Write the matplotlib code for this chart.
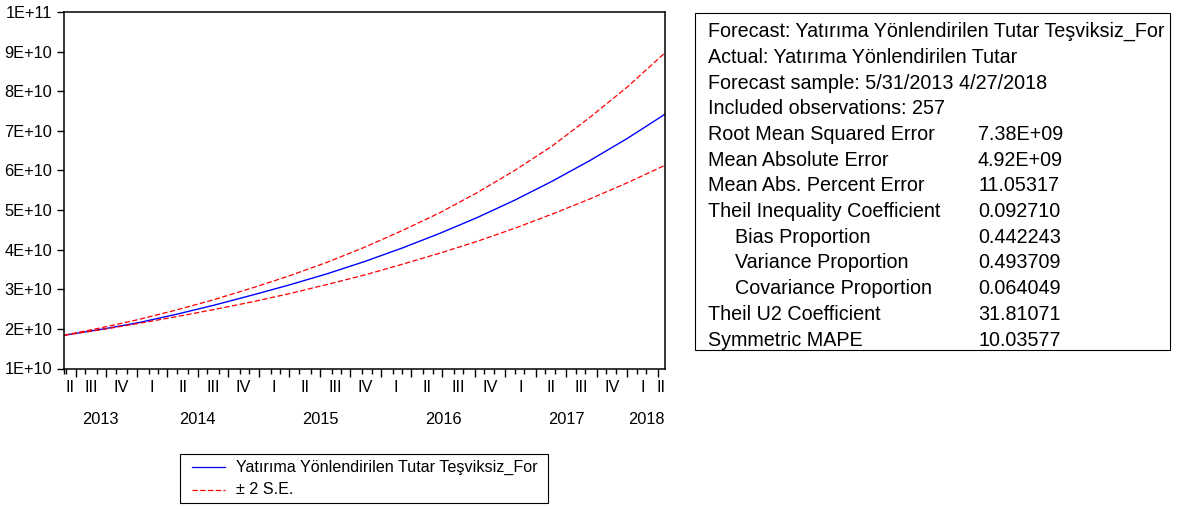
# Forecast graph: Yatırıma Yönlendirilen Tutar (teşviksiz) with ±2 S.E. band
import matplotlib
matplotlib.use('Agg')
import matplotlib.pyplot as plt
import matplotlib.dates as mdates
from matplotlib.lines import Line2D
from matplotlib.patches import Rectangle
import numpy as np
import pandas as pd

plt.rcParams['font.family'] = ['Liberation Sans', 'DejaVu Sans']

# Forecast sample (weekly, Friday dates)
start = pd.Timestamp('2013-05-31')
end = pd.Timestamp('2018-04-27')

# values in units of 1E+10, read every 16 weeks from the sample start
weeks = [0, 16, 32, 48, 64, 80, 96, 112, 128, 144, 160, 176, 192, 208, 224, 240, 256]
forecast = [1.84, 1.99, 2.16, 2.37, 2.60, 2.85, 3.11, 3.39, 3.70, 4.04, 4.41,
            4.81, 5.25, 5.73, 6.25, 6.81, 7.42]
upper = [1.84, 2.03, 2.24, 2.48, 2.74, 3.03, 3.34, 3.68, 4.06, 4.48, 4.93,
         5.44, 6.00, 6.62, 7.34, 8.11, 8.97]
lower = [1.84, 1.98, 2.14, 2.31, 2.49, 2.68, 2.89, 3.12, 3.36, 3.63, 3.91,
         4.21, 4.54, 4.90, 5.28, 5.69, 6.13]

series_label = 'Yatırıma Yönlendirilen Tutar Teşviksiz_For'
band_label = '± 2 S.E.'

header_lines = ['Forecast: Yatırıma Yönlendirilen Tutar Teşviksiz_For',
                'Actual: Yatırıma Yönlendirilen Tutar',
                'Forecast sample: 5/31/2013 4/27/2018',
                'Included observations: 257']
stat_names = ['Root Mean Squared Error', 'Mean Absolute Error',
              'Mean Abs. Percent Error', 'Theil Inequality Coefficient',
              'Bias Proportion', 'Variance Proportion',
              'Covariance Proportion', 'Theil U2 Coefficient',
              'Symmetric MAPE']
stat_indent = [0, 0, 0, 0, 1, 1, 1, 0, 0]
stat_values = ['7.38E+09', '4.92E+09', '11.05317', '0.092710', '0.442243',
               '0.493709', '0.064049', '31.81071', '10.03577']

W, H = 1184, 509
fig = plt.figure(figsize=(W / 100, H / 100), dpi=100)
ax = fig.add_axes([64 / W, 1 - 368.5 / H, 601 / W, 356.5 / H])

dates = start + pd.to_timedelta(np.array(weeks) * 7, unit='D')
blue = '#0000ff'
red = '#ff0000'
dash = (0, (4.3, 1.9))
ax.plot(dates, np.array(forecast) * 1e10, color=blue, lw=1.0)
ax.plot(dates, np.array(upper) * 1e10, color=red, lw=0.9, ls=dash)
ax.plot(dates, np.array(lower) * 1e10, color=red, lw=0.9, ls=dash)

ax.set_xlim(start, end)
ax.set_ylim(1e10, 1e11)
yt = np.arange(1, 11) * 1e10
ax.set_yticks(yt)
ax.set_yticklabels([f'{k}E+10' for k in range(1, 10)] + ['1E+11'])

# ticks at the first observation of each month, longer ones at quarter starts
fridays = pd.date_range(start, end, freq='W-FRI')
s = pd.Series(fridays, index=fridays)
firsts = s.groupby([fridays.year, fridays.month]).first()
firsts = [d for d in firsts if d > start]
q_starts = [d for d in firsts if d.month in (1, 4, 7, 10)]
m_ticks = [d for d in firsts if d.month not in (1, 4, 7, 10)]
ax.set_xticks(q_starts)
ax.set_xticks([start] + m_ticks, minor=True)
ax.set_xticklabels([])
ax.tick_params(axis='x', which='major', direction='out', length=6, width=1)
ax.tick_params(axis='x', which='minor', direction='out', length=3.6, width=1)
ax.tick_params(axis='y', direction='out', length=5, width=1, pad=3.5,
               labelsize=11.8)
for sp in ax.spines.values():
    sp.set_linewidth(1.1)

# quarter and year labels centred on their spans
roman = {1: 'I', 2: 'II', 3: 'III', 4: 'IV'}
qb = [start] + q_starts + [end]
xt = ax.get_xaxis_transform()
for a, b in zip(qb[:-1], qb[1:]):
    mid = (mdates.date2num(a) + mdates.date2num(b)) / 2
    ax.text(mid, -0.052, roman[(a.month - 1) // 3 + 1], transform=xt,
            ha='center', va='center', fontsize=11.8)
y_starts = [d for d in q_starts if d.month == 1]
yb = [start] + y_starts + [end]
for a, b in zip(yb[:-1], yb[1:]):
    mid = (mdates.date2num(a) + mdates.date2num(b)) / 2
    ax.text(mid, -0.144, str(a.year), transform=xt,
            ha='center', va='center', fontsize=11.8)

# legend box under the graph
fig.add_artist(Rectangle((180 / W, 1 - 503 / H), 368 / W, 49 / H,
                         transform=fig.transFigure, fill=False,
                         edgecolor='black', lw=0.8))
for (lab, col, ls, yc) in [(series_label, blue, '-', 467),
                           (band_label, red, dash, 490)]:
    fig.add_artist(Line2D([192 / W, 225 / W], [1 - yc / H] * 2,
                          transform=fig.transFigure, color=col, lw=0.9, ls=ls))
    fig.text(236 / W, 1 - yc / H, lab, ha='left', va='center', fontsize=11.6)

# forecast evaluation table
fig.add_artist(Rectangle((695 / W, 1 - 350 / H), 475 / W, 337 / H,
                         transform=fig.transFigure, fill=False,
                         edgecolor='black', lw=0.8))
rows = [(t, 0, '') for t in header_lines] + \
    list(zip(stat_names, stat_indent, stat_values))
for i, (name, ind, val) in enumerate(rows):
    y = 1 - (31.7 + 25.7 * i) / H
    fig.text((708 + 27 * ind) / W, y, name, ha='left', va='center',
             fontsize=14.2)
    if val:
        fig.text(978 / W, y, val, ha='left', va='center', fontsize=14.2)

fig.savefig('out.png', dpi=100)
